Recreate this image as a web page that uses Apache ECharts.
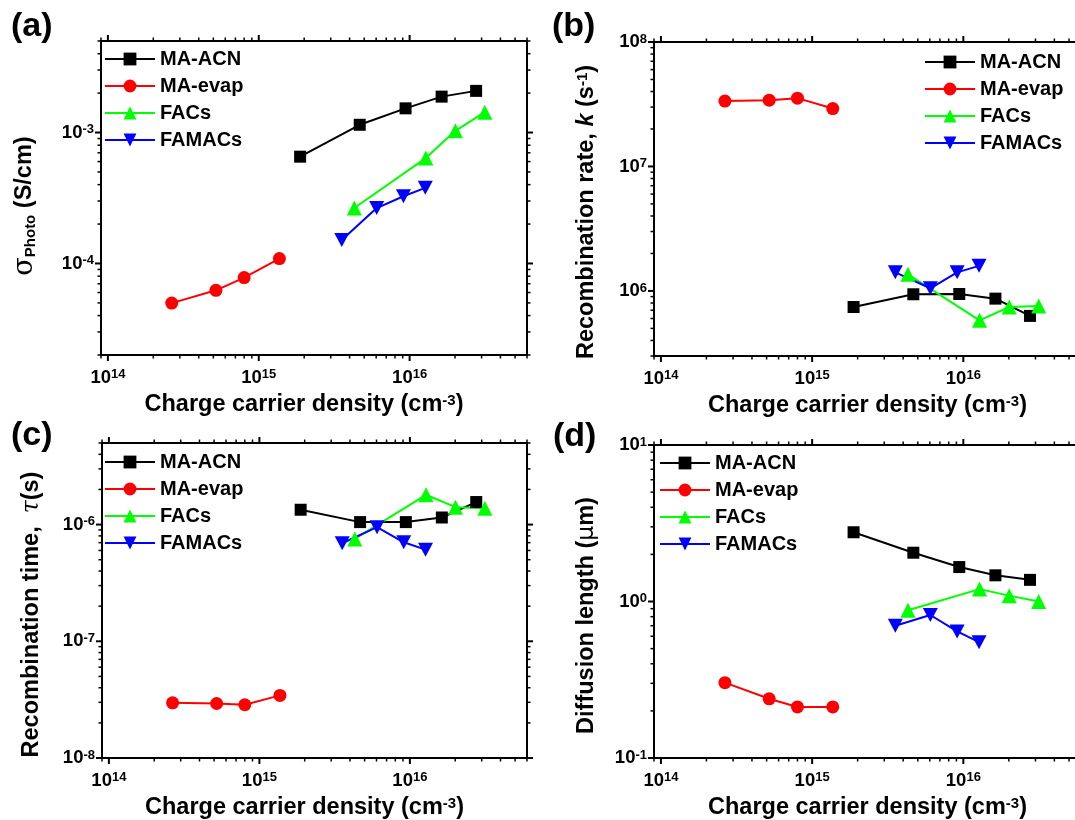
<!DOCTYPE html>
<html>
<head>
<meta charset="utf-8">
<script src="https://cdn.jsdelivr.net/npm/echarts@6/dist/echarts.min.js"></script>
<style>
  html, body { margin: 0; padding: 0; background: #ffffff; }
  #chart { width: 1075px; height: 820px; }
</style>
</head>
<body>
<div id="chart"></div>
<script>
// Film types, in legend order
const seriesNames = ['MA-ACN', 'MA-evap', 'FACs', 'FAMACs'];
const panelLetters = ['(a)', '(b)', '(c)', '(d)'];

// Charge carrier density (cm^-3) of each measurement
const densityMAACN  = [1.88e15, 4.67e15, 9.4e15, 1.63e16, 2.76e16];
const densityMAevap = [2.65e14, 5.2e14, 8.0e14, 1.37e15];
const densityFACs   = [4.3e15, 1.28e16, 2.01e16, 3.15e16];
const densityFAMACs = [3.55e15, 6.05e15, 9.1e15, 1.27e16];

// (a) photoconductivity (S/cm)
const sigmaMAACN  = [6.54e-4, 1.146e-3, 1.53e-3, 1.88e-3, 2.08e-3];
const sigmaMAevap = [4.98e-5, 6.24e-5, 7.8e-5, 1.09e-4];
const sigmaFACs   = [2.65e-4, 6.38e-4, 1.03e-3, 1.43e-3];
const sigmaFAMACs = [1.51e-4, 2.65e-4, 3.26e-4, 3.78e-4];

// (b) recombination rate k (1/s)
const rateMAACN  = [7.43e5, 9.4e5, 9.45e5, 8.67e5, 6.3e5];
const rateMAevap = [3.35e7, 3.41e7, 3.54e7, 2.92e7];
const rateFACs   = [1.36e6, 5.8e5, 7.43e5, 7.57e5];
const rateFAMACs = [1.41e6, 1.05e6, 1.41e6, 1.59e6];

// (c) recombination time tau (s)
const timeMAACN  = [1.34e-6, 1.05e-6, 1.05e-6, 1.15e-6, 1.56e-6];
const timeMAevap = [2.97e-8, 2.93e-8, 2.86e-8, 3.44e-8];
const timeFACs   = [7.53e-7, 1.8e-6, 1.41e-6, 1.38e-6];
const timeFAMACs = [6.92e-7, 9.5e-7, 7.05e-7, 6.1e-7];

// (d) diffusion length (um)
const lengthMAACN  = [2.77, 2.05, 1.66, 1.47, 1.375];
const lengthMAevap = [0.303, 0.239, 0.212, 0.212];
const lengthFACs   = [0.88, 1.2, 1.09, 1.0];
const lengthFAMACs = [0.70, 0.82, 0.644, 0.55];

// Axis ranges of each panel
const xRange = [9e13, 6e16];
const yRanges = [[2e-5, 5e-3], [3e5, 1e8], [1e-8, 5e-6], [0.1, 10]];

const densities = [densityMAACN, densityMAevap, densityFACs, densityFAMACs];
const panelValues = [
  [sigmaMAACN, sigmaMAevap, sigmaFACs, sigmaFAMACs],
  [rateMAACN, rateMAevap, rateFACs, rateFAMACs],
  [timeMAACN, timeMAevap, timeFACs, timeFAMACs],
  [lengthMAACN, lengthMAevap, lengthFACs, lengthFAMACs]
];

const FONT = '"Liberation Sans", Arial, Helvetica, sans-serif';
const colors = ['#000000', '#ff0000', '#00ff00', '#0000ff'];
const symbols = ['rect', 'circle', 'triangle', 'path://M0,0L20,0L10,18Z'];
const symbolSizes = [12, 13, 15, [15, 14]];

const gridBoxes = [
  { left: 101, top: 41, width: 426, height: 314 },
  { left: 654, top: 42, width: 427, height: 314 },
  { left: 102, top: 443, width: 425, height: 315 },
  { left: 654, top: 445, width: 427, height: 313 }
];

const yNames = [
  '{sig|\u03C3}{sub|Photo}{t| (S/cm)}',
  '{t|Recombination rate, }{it|k}{t| (s}{sup|-1}{t|)}',
  '{t|Recombination time,  }{tau|\u03C4}{t|(s)}',
  '{t|Diffusion length (}{mu|\u03BC}{t|m)}'
];
const yNameGaps = [63, 55, 58, 55];
// extra room after each y title, nudging it toward the lower end of its axis
const yNamePads = [16, 26, 28, 28];
// extra room after the x titles of the left-hand panels
const xNamePads = [20, 0, 20, 0];
const legendPos = [
  { left: 104, top: 49 },
  { left: 924, top: 52 },
  { left: 104, top: 452 },
  { left: 659, top: 453 }
];
const letterPos = [
  { left: 11, top: 10 },
  { left: 552, top: 10 },
  { left: 11, top: 419 },
  { left: 553, top: 420 }
];

const titleRich = {
  t:   { fontSize: 23.5, fontWeight: 'bold', fontFamily: FONT, color: '#000' },
  it:  { fontSize: 23.5, fontWeight: 'bold', fontStyle: 'italic', fontFamily: FONT, color: '#000' },
  sig: { fontSize: 27, fontFamily: '"DejaVu Serif", serif', color: '#000' },
  tau: { fontSize: 23.5, fontStyle: 'italic', fontFamily: '"DejaVu Serif", serif', color: '#000' },
  mu:  { fontSize: 23.5, fontFamily: '"DejaVu Sans", sans-serif', color: '#000' },
  sup: { fontSize: 15, fontWeight: 'bold', fontFamily: FONT, color: '#000', verticalAlign: 'top' },
  sub: { fontSize: 15, fontWeight: 'bold', fontFamily: FONT, color: '#000', verticalAlign: 'bottom' }
};

const labelRich = {
  b: { fontSize: 18.5, fontWeight: 'bold', fontFamily: FONT, color: '#000' },
  e: { fontSize: 13, fontWeight: 'bold', fontFamily: FONT, color: '#000', verticalAlign: 'top' }
};

// Show only decade labels, written as 10 with a raised exponent
function decadeLabel(v) {
  const lg = Math.log10(v);
  const p = Math.round(lg);
  if (Math.abs(lg - p) > 1e-6) return '';
  return '{b|10}{e|' + p + '}';
}

// Tick positions (1..9 x 10^n) along the four sides of a log-log box
function boxTicks(xr, yr) {
  const out = [];
  const walk = (lo, hi, fn) => {
    const p0 = Math.floor(Math.log10(lo)), p1 = Math.ceil(Math.log10(hi));
    for (let p = p0; p <= p1; p++) {
      for (let m = 1; m <= 9; m++) {
        const v = m * Math.pow(10, p);
        if (v >= lo * (1 - 1e-9) && v <= hi * (1 + 1e-9)) fn(v, m === 1 ? 1 : 0);
      }
    }
  };
  walk(xr[0], xr[1], (v, major) => { out.push([v, yr[0], 0, major]); out.push([v, yr[1], 1, major]); });
  walk(yr[0], yr[1], (v, major) => { out.push([xr[0], v, 2, major]); out.push([xr[1], v, 3, major]); });
  return out;
}

function renderTick(params, api) {
  const p = api.coord([api.value(0), api.value(1)]);
  const side = api.value(2);
  const len = api.value(3) ? 6 : 3.5;
  let dx = 0, dy = 0;
  if (side === 0) dy = len;
  else if (side === 1) dy = -len;
  else if (side === 2) dx = -len;
  else dx = len;
  return {
    type: 'line',
    shape: { x1: p[0], y1: p[1], x2: p[0] + dx, y2: p[1] + dy },
    style: { stroke: '#000', lineWidth: api.value(3) ? 2 : 1.5 }
  };
}

const grid = [], xAxis = [], yAxis = [], series = [], legend = [], graphic = [];

for (let i = 0; i < 4; i++) {
  grid.push(Object.assign({
    show: true, borderColor: '#000', borderWidth: 2, backgroundColor: 'transparent',
    containLabel: false, outerBoundsMode: 'none'
  }, gridBoxes[i]));

  xAxis.push({
    type: 'log', gridIndex: i, min: xRange[0], max: xRange[1],
    axisLine: { show: false }, axisTick: { show: false }, splitLine: { show: false },
    minorTick: { show: false },
    axisLabel: { formatter: decadeLabel, rich: labelRich, margin: 13, showMinLabel: true, showMaxLabel: true, hideOverlap: false },
    name: '{t|Charge carrier density (cm}{sup|-3}{t|)}',
    nameLocation: 'middle', nameGap: 38,
    nameTextStyle: { rich: titleRich, padding: [0, xNamePads[i], 0, 0] }
  });

  yAxis.push({
    type: 'log', gridIndex: i, min: yRanges[i][0], max: yRanges[i][1],
    axisLine: { show: false }, axisTick: { show: false }, splitLine: { show: false },
    minorTick: { show: false },
    axisLabel: { formatter: decadeLabel, rich: labelRich, margin: 7, showMinLabel: true, showMaxLabel: true, hideOverlap: false },
    name: yNames[i], nameLocation: 'middle', nameRotate: 90, nameGap: yNameGaps[i],
    nameTextStyle: { rich: titleRich, padding: [0, yNamePads[i], 0, 0] }
  });

  for (let s = 0; s < 4; s++) {
    const xs = densities[s], ys = panelValues[i][s];
    series.push({
      type: 'line', name: seriesNames[s], xAxisIndex: i, yAxisIndex: i,
      data: xs.map((x, k) => [x, ys[k]]),
      symbol: symbols[s], symbolSize: symbolSizes[s], showAllSymbol: true,
      lineStyle: { color: colors[s], width: 2 },
      itemStyle: { color: colors[s] },
      emphasis: { disabled: true },
      animation: false
    });
  }

  series.push({
    type: 'custom', name: 'box ticks ' + i, xAxisIndex: i, yAxisIndex: i,
    data: boxTicks(xRange, yRanges[i]),
    renderItem: renderTick, clip: false, silent: true, animation: false, z: 3
  });

  legend.push({
    data: seriesNames, orient: 'vertical',
    left: legendPos[i].left, top: legendPos[i].top,
    itemWidth: 50, itemHeight: 16, itemGap: 7, selectedMode: false,
    padding: 0,
    textStyle: { fontSize: 20, fontWeight: 'bold', fontFamily: FONT, color: '#000' }
  });

  graphic.push({
    type: 'text', left: letterPos[i].left, top: letterPos[i].top,
    style: { text: panelLetters[i], fontSize: 34, fontWeight: 'bold', fontFamily: FONT, fill: '#000' }
  });
}

const chart = echarts.init(document.getElementById('chart'), null, { renderer: 'canvas' });
chart.setOption({
  backgroundColor: '#ffffff',
  animation: false,
  textStyle: { fontFamily: FONT },
  grid, xAxis, yAxis, series, legend, graphic
});
</script>
</body>
</html>
